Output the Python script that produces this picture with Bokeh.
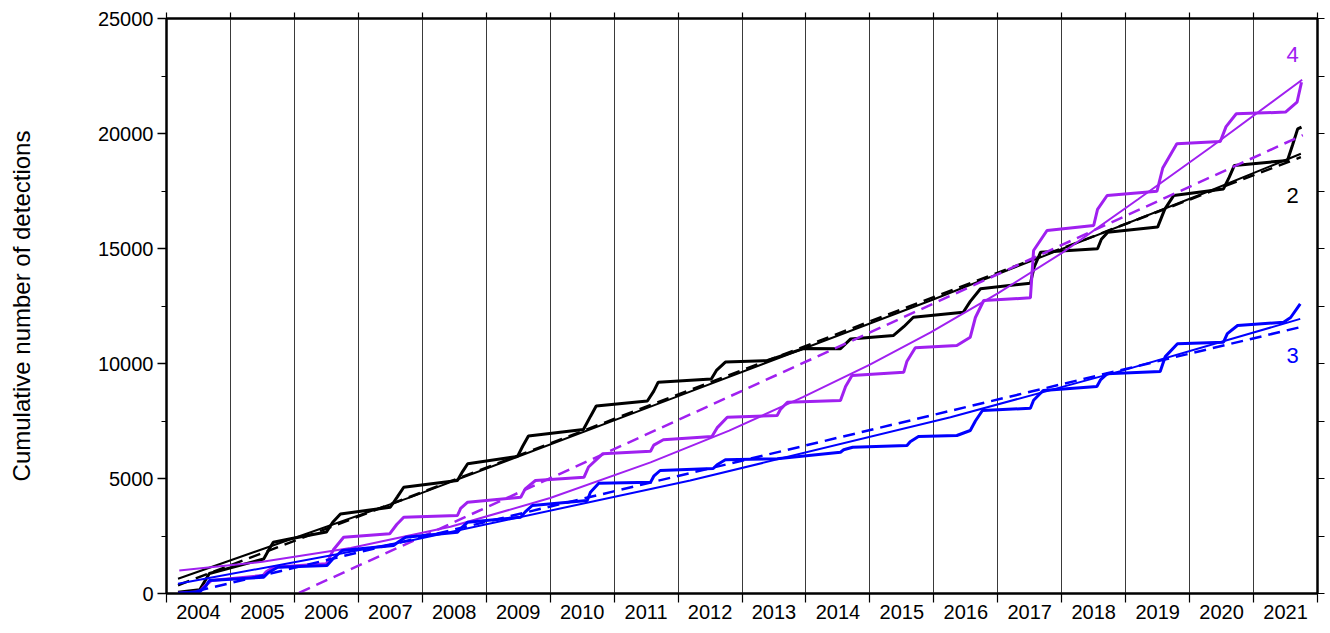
from bokeh.plotting import figure
from bokeh.models import Range1d, LinearAxis, FixedTicker, ColumnDataSource, CustomJSTickFormatter
from bokeh.embed import file_html
from bokeh.resources import INLINE
from bokeh.core.properties import value

FONT = "Liberation Sans"

# ---- axis definitions ----
year_labels = list(range(2004, 2022))          # one label per year interval
year_bounds = list(range(2004, 2023))          # year boundaries (grid / ticks)
y_major = [0, 5000, 10000, 15000, 20000, 25000]
y_minor = [2500, 7500, 12500, 17500, 22500]

# ---- series 2 (black) cumulative detections ----
black_t = [2004.18, 2004.52, 2004.58, 2004.67, 2005.52, 2005.60, 2005.67, 2005.94, 2006.50, 2006.60,
           2006.72, 2007.50, 2007.61, 2007.71, 2008.55, 2008.63, 2008.71, 2009.49, 2009.57, 2009.66,
           2010.52, 2010.63, 2010.72, 2011.52, 2011.62, 2011.69, 2012.52, 2012.60, 2012.74, 2013.40,
           2013.96, 2014.54, 2014.70, 2015.37, 2015.53, 2015.68, 2016.46, 2016.57, 2016.73, 2017.51,
           2017.57, 2017.67, 2018.56, 2018.62, 2018.72, 2019.50, 2019.61, 2019.75, 2020.53, 2020.62,
           2020.70, 2021.53, 2021.61, 2021.69, 2021.75]
black_v = [50, 160, 450, 870, 1500, 1900, 2230, 2380, 2670, 3100,
           3460, 3750, 4200, 4620, 4910, 5300, 5640, 5960, 6400, 6850,
           7130, 7700, 8150, 8370, 8800, 9190, 9330, 9700, 10060, 10130,
           10650, 10640, 11070, 11220, 11600, 12010, 12230, 12700, 13250, 13490,
           14200, 14840, 14990, 15400, 15710, 15930, 16700, 17300, 17590, 18100,
           18610, 18830, 19500, 20200, 20280]
black_fit_t = [2004.18, 2007.82, 2011.88, 2015.95, 2020.33, 2021.74]
black_fit_v = [640, 4190, 8450, 12740, 17520, 19120]
black_lin_t = [2004.18, 2021.74]
black_lin_v = [360, 18970]

# ---- series 4 (purple) ----
purple_t = [2004.18, 2004.52, 2004.59, 2004.70, 2005.51, 2005.56, 2005.67, 2006.50, 2006.61, 2006.77,
            2007.49, 2007.60, 2007.71, 2008.55, 2008.60, 2008.71, 2009.54, 2009.61, 2009.77, 2010.53,
            2010.60, 2010.82, 2011.57, 2011.62, 2011.77, 2012.53, 2012.61, 2012.77, 2013.55, 2013.60,
            2013.71, 2014.54, 2014.62, 2014.72, 2015.53, 2015.58, 2015.71, 2016.36, 2016.57, 2016.65,
            2016.78, 2017.51, 2017.56, 2017.77, 2018.50, 2018.56, 2018.71, 2019.49, 2019.58, 2019.80,
            2020.48, 2020.57, 2020.73, 2021.50, 2021.68, 2021.75]
purple_v = [13, 78, 300, 565, 783, 950, 1143, 1290, 1900, 2448,
            2594, 3000, 3317, 3391, 3700, 3970, 4187, 4550, 4913, 5057,
            5500, 6074, 6188, 6450, 6682, 6826, 7200, 7665, 7739, 8000,
            8318, 8391, 9000, 9478, 9622, 10100, 10683, 10783, 11144, 12000,
            12739, 12855, 14913, 15783, 16000, 16700, 17304, 17491, 18500, 19552,
            19652, 20300, 20856, 20930, 21360, 22230]
purple_fit_t = [2004.20, 2005.50, 2006.88, 2008.44, 2010.00, 2011.57, 2012.80, 2013.96,
                2015.00, 2015.95, 2017.00, 2018.00, 2019.20, 2020.33, 2021.76]
purple_fit_v = [1000, 1380, 1980, 2900, 4150, 5700, 7080, 8550,
                9950, 11350, 13050, 14800, 17150, 19400, 22335]
purple_lin_t = [2004.18, 2021.77]
purple_lin_v = [-2370, 19930]

# ---- series 3 (blue) ----
blue_t = [2004.18, 2004.52, 2004.61, 2004.67, 2005.52, 2005.59, 2005.74, 2006.51, 2006.60, 2006.75,
          2007.55, 2007.63, 2007.74, 2008.55, 2008.63, 2008.71, 2009.54, 2009.61, 2009.72, 2010.58,
          2010.63, 2010.76, 2011.57, 2011.62, 2011.72, 2012.55, 2012.61, 2012.74, 2013.55, 2014.54,
          2014.59, 2014.73, 2015.58, 2015.63, 2015.76, 2016.36, 2016.57, 2016.65, 2016.76, 2017.51,
          2017.56, 2017.71, 2018.55, 2018.61, 2018.71, 2019.54, 2019.62, 2019.81, 2020.53, 2020.59,
          2020.75, 2021.47, 2021.58, 2021.73]
blue_v = [13, 78, 300, 565, 710, 900, 1143, 1217, 1500, 1870,
          2087, 2250, 2448, 2665, 2900, 3100, 3320, 3550, 3826, 4043,
          4400, 4790, 4840, 5100, 5348, 5435, 5600, 5812, 5857, 6143,
          6250, 6361, 6435, 6600, 6826, 6870, 7087, 7500, 7957, 8057,
          8400, 8826, 9000, 9300, 9552, 9652, 10300, 10857, 10926, 11300,
          11652, 11796, 12000, 12596]
blue_fit_t = [2004.18, 2007.82, 2012.19, 2016.26, 2018.96, 2021.73]
blue_fit_v = [420, 2300, 4910, 7665, 9700, 11940]
blue_lin_t = [2004.18, 2021.73]
blue_lin_v = [-90, 11580]

# ---- series labels ----
lab_text = ["4", "2", "3"]
lab_t = [2021.61, 2021.61, 2021.61]
lab_v = [23430, 17300, 10350]
lab_col = ["#a020f0", "#000000", "#0000ff"]

BLACK, PURPLE, BLUE = "#000000", "#a020f0", "#0000ff"

p = figure(width=1330, height=633, x_range=Range1d(2004, 2022), y_range=Range1d(0, 25000),
           output_backend="svg", toolbar_location=None,
           x_axis_location=None, y_axis_location=None,
           min_border_left=166, min_border_right=13, min_border_top=18, min_border_bottom=40)
p.outline_line_color = BLACK
p.outline_line_width = 2
p.background_fill_color = "white"
p.border_fill_color = "white"

# grid at year boundaries
p.ygrid.visible = False
p.xgrid.ticker = FixedTicker(ticks=year_bounds)
p.xgrid.grid_line_color = "#3a3a3a"
p.xgrid.grid_line_width = 1

mids = [y + 0.5 for y in year_labels]

xb = LinearAxis(ticker=FixedTicker(ticks=mids, minor_ticks=year_bounds),
                formatter=CustomJSTickFormatter(code="return Math.floor(tick).toFixed(0);"))
xb.axis_line_width = 2
xb.axis_line_color = BLACK
xb.major_tick_out = 0
xb.major_tick_in = 0
xb.minor_tick_out = 9
xb.minor_tick_in = 0
xb.minor_tick_line_width = 1.2
xb.minor_tick_line_color = BLACK
xb.major_label_text_font = FONT
xb.major_label_text_font_size = "20px"
xb.major_label_text_color = BLACK
xb.major_label_standoff = 2
p.add_layout(xb, "below")

xt = LinearAxis(ticker=FixedTicker(ticks=[], minor_ticks=year_bounds))
xt.axis_line_width = 2
xt.axis_line_color = BLACK
xt.major_tick_out = 0
xt.major_tick_in = 0
xt.minor_tick_out = 6
xt.minor_tick_in = 0
xt.minor_tick_line_width = 1.2
xt.minor_tick_line_color = BLACK
xt.major_label_standoff = 0
p.add_layout(xt, "above")

yl = LinearAxis(ticker=FixedTicker(ticks=y_major, minor_ticks=y_minor),
                axis_label="Cumulative number of detections")
yl.axis_line_width = 2
yl.axis_line_color = BLACK
yl.major_tick_out = 9
yl.major_tick_in = 0
yl.minor_tick_out = 5
yl.minor_tick_in = 0
yl.major_tick_line_width = 1.5
yl.minor_tick_line_width = 1.2
yl.major_tick_line_color = BLACK
yl.minor_tick_line_color = BLACK
yl.major_label_text_font = FONT
yl.major_label_text_font_size = "20px"
yl.major_label_text_color = BLACK
yl.major_label_standoff = 4
yl.axis_label_text_font = FONT
yl.axis_label_text_font_size = "24px"
yl.axis_label_text_font_style = "normal"
yl.axis_label_text_color = BLACK
yl.axis_label_standoff = 60
p.add_layout(yl, "left")

yr = LinearAxis(ticker=FixedTicker(ticks=[], minor_ticks=y_major + y_minor))
yr.axis_line_width = 2
yr.axis_line_color = BLACK
yr.major_tick_out = 0
yr.major_tick_in = 0
yr.minor_tick_out = 7
yr.minor_tick_in = 0
yr.minor_tick_line_width = 1.2
yr.minor_tick_line_color = BLACK
yr.major_label_standoff = 0
p.add_layout(yr, "right")

DASH = "12 7"

# black
p.line(black_t, black_v, line_color=BLACK, line_width=3)
p.line(black_fit_t, black_fit_v, line_color=BLACK, line_width=2)
p.line(black_lin_t, black_lin_v, line_color=BLACK, line_width=2.5, line_dash=DASH)
# purple
p.line(purple_t, purple_v, line_color=PURPLE, line_width=3)
p.line(purple_fit_t, purple_fit_v, line_color=PURPLE, line_width=2)
p.line(purple_lin_t, purple_lin_v, line_color=PURPLE, line_width=2.5, line_dash=DASH)
# blue
p.line(blue_t, blue_v, line_color=BLUE, line_width=3)
p.line(blue_fit_t, blue_fit_v, line_color=BLUE, line_width=2)
p.line(blue_lin_t, blue_lin_v, line_color=BLUE, line_width=2.5, line_dash=DASH)

src = ColumnDataSource(dict(x=lab_t, y=lab_v, t=lab_text, c=lab_col))
p.text(x="x", y="y", text="t", text_color="c", source=src,
       text_font=value(FONT), text_font_size=value("22px"),
       text_align="center", text_baseline="middle")

open("out.html", "w").write(file_html(p, INLINE, title="Cumulative detections"))
